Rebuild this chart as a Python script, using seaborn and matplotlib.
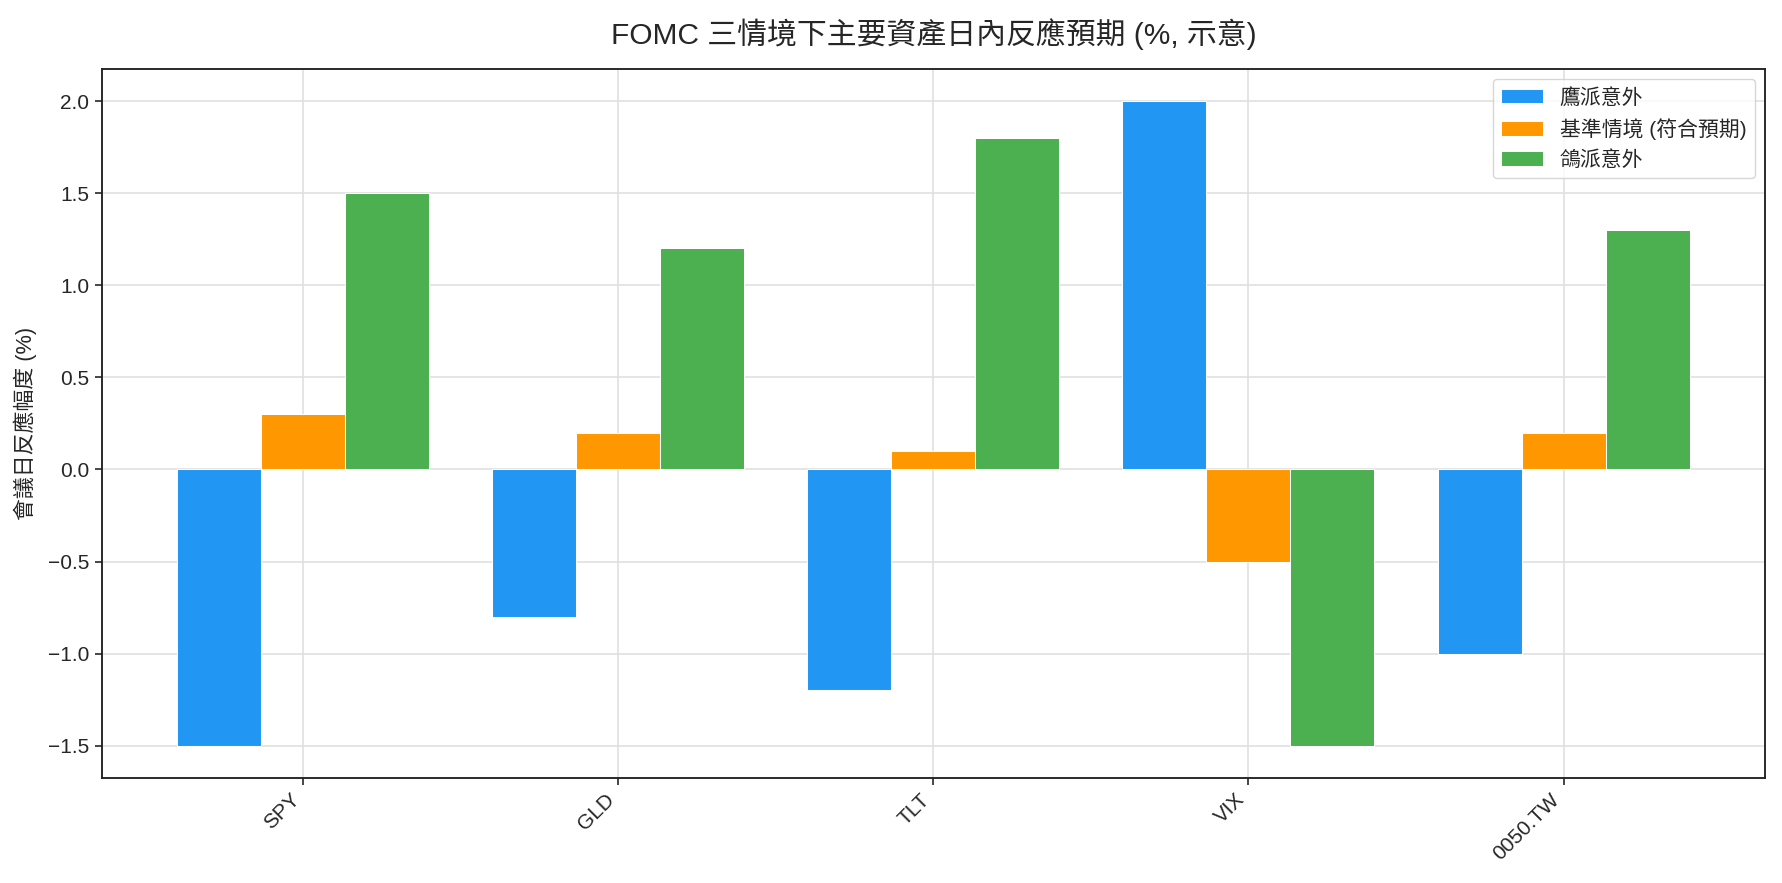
import matplotlib
matplotlib.use("Agg")
import matplotlib.pyplot as plt
import seaborn as sns
import pandas as pd

assets = ["SPY", "GLD", "TLT", "VIX", "0050.TW"]
scenarios = ["鷹派意外", "基準情境 (符合預期)", "鴿派意外"]
hawkish = [-1.5, -0.8, -1.2, 2.0, -1.0]
base = [0.3, 0.2, 0.1, -0.5, 0.2]
dovish = [1.5, 1.2, 1.8, -1.5, 1.3]
colors = ["#2196F3", "#FF9800", "#4CAF50"]

rows = []
for s, vals in zip(scenarios, [hawkish, base, dovish]):
    for a, v in zip(assets, vals):
        rows.append({"asset": a, "scenario": s, "value": v})
df = pd.DataFrame(rows)

sns.set_theme(style="ticks")
plt.rcParams["font.family"] = ["Liberation Sans", "Noto Sans CJK TC", "DejaVu Sans"]
plt.rcParams["axes.unicode_minus"] = True

S = 1.5
fig, ax = plt.subplots(figsize=(17.83, 8.83), dpi=100)
sns.barplot(data=df, x="asset", y="value", hue="scenario", hue_order=scenarios,
            order=assets, palette=colors, width=0.8, edgecolor="white",
            linewidth=0.5 * S, saturation=1, ax=ax, errorbar=None)

ax.set_xlim(-0.64, 4.64)
ax.set_ylim(-1.675, 2.175)
ax.grid(True, color="#e0e0e0", linewidth=0.8 * S)
ax.set_axisbelow(True)
for sp in ax.spines.values():
    sp.set_visible(True)
    sp.set_color("#222222")
    sp.set_linewidth(0.9 * S)

ax.set_title("FOMC 三情境下主要資產日內反應預期 (%, 示意)", fontsize=21.5, pad=18)
ax.set_xlabel("")
ax.set_ylabel("會議日反應幅度 (%)", fontsize=10.5 * S, labelpad=8)
ax.tick_params(axis="both", labelsize=10 * S, length=3.5 * S, width=0.8 * S)
plt.setp(ax.get_xticklabels(), rotation=45, ha="right")

leg = ax.legend(loc="upper right", fontsize=10 * S, frameon=True)
leg.set_title(None)

fig.subplots_adjust(left=0.057, right=0.99, top=0.922, bottom=0.119)
fig.savefig("out.png", dpi=100)
